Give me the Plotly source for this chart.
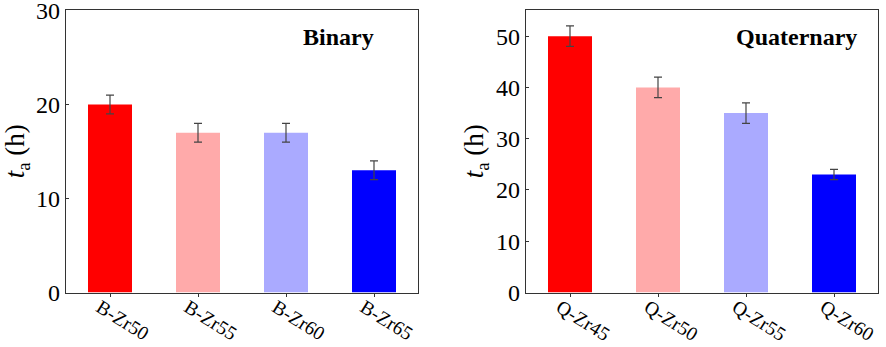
import plotly.graph_objects as go

b_cats = ["B-Zr50", "B-Zr55", "B-Zr60", "B-Zr65"]
b_vals = [20, 17, 17, 13]
b_err = [1, 1, 1, 1]

q_cats = ["Q-Zr45", "Q-Zr50", "Q-Zr55", "Q-Zr60"]
q_vals = [50, 40, 35, 23]
q_err = [2, 2, 2, 1]

colors = ["#FF0000", "#FFAAAA", "#AAAAFF", "#0000FF"]

FONT = "Liberation Serif"
W, H = 886, 347

fig = go.Figure()
fig.add_trace(go.Bar(x=b_cats, y=b_vals, marker=dict(color=colors, line=dict(width=0)),
                     width=0.5,
                     error_y=dict(type="data", array=b_err, color="#444444", thickness=1.2, width=4),
                     xaxis="x", yaxis="y", showlegend=False))
fig.add_trace(go.Bar(x=q_cats, y=q_vals, marker=dict(color=colors, line=dict(width=0)),
                     width=0.5,
                     error_y=dict(type="data", array=q_err, color="#444444", thickness=1.2, width=4),
                     xaxis="x2", yaxis="y2", showlegend=False))

ydom = [1 - 292.5 / H, 1 - 10 / H]
lineopts = dict(showline=True, linecolor="#333333", linewidth=1.3, mirror=True,
                showgrid=False, zeroline=False, ticklabeloverflow="allow", automargin=False)
ytickfont = dict(family=FONT, size=24, color="black")
xtickfont = dict(family=FONT, size=19.5, color="black")
ytitle = dict(text="<i>t</i><sub>a</sub> (h)", font=dict(family=FONT, size=27), standoff=4)
xopts = dict(ticks="outside", ticklen=3, tickcolor="#333333", tickangle=32,
             ticklabelstandoff=-8, ticklabelshift=-10, tickfont=xtickfont, range=[-0.5, 3.5])

fig.update_layout(
    width=W, height=H, autosize=False,
    margin=dict(l=0, r=0, t=0, b=0, pad=0, autoexpand=False),
    paper_bgcolor="white", plot_bgcolor="white",
    font=dict(family=FONT, color="black"),
    xaxis=dict(domain=[66 / W, 418 / W], anchor="y", **xopts, **lineopts),
    yaxis=dict(domain=ydom, anchor="x", range=[0, 30.05], tickvals=[0, 10, 20, 30],
               ticks="inside", ticklen=3, tickcolor="#333333",
               tickfont=ytickfont, title=ytitle, **lineopts),
    xaxis2=dict(domain=[526 / W, 878 / W], anchor="y2", **xopts, **lineopts),
    yaxis2=dict(domain=ydom, anchor="x2", range=[0, 55.1], tickvals=[0, 10, 20, 30, 40, 50],
                ticks="inside", ticklen=3, tickcolor="#333333",
                tickfont=ytickfont, title=ytitle, **lineopts),
    annotations=[
        dict(text="<b>Binary</b>", x=338 / W, y=1 - 37 / H, xref="paper", yref="paper",
             xanchor="center", yanchor="middle",
             showarrow=False, font=dict(family=FONT, size=24, color="black")),
        dict(text="<b>Quaternary</b>", x=796 / W, y=1 - 37 / H, xref="paper", yref="paper",
             xanchor="center", yanchor="middle",
             showarrow=False, font=dict(family=FONT, size=24, color="black")),
    ],
)

fig.write_html("out.html", config={"displayModeBar": False, "responsive": False},
               post_script="document.body.style.margin='0';document.body.style.overflow='hidden';")
